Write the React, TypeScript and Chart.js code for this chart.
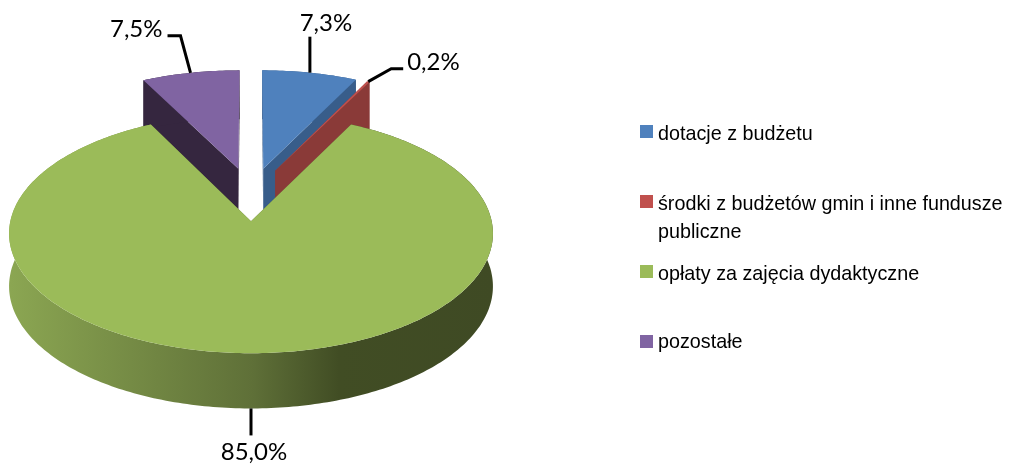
import React, { useEffect, useRef } from "react";
import { Chart, registerables } from "chart.js";

Chart.register(...registerables);

const categories = ["dotacje z budżetu", "środki z budżetów gmin i inne fundusze", "opłaty za zajęcia dydaktyczne", "pozostałe"];
const categoryLines = [[categories[0]], [categories[1], "publiczne"], [categories[2]], [categories[3]]];
const values = [7.3, 0.2, 85.0, 7.5];
const topColors = ["#4f81bd", "#c0504d", "#9bbb59", "#8064a2"];
const wallColors = ["#385d8a", "#8a3a38", "#5d6e35", "#35263f"];
const drawOrder = [3, 0, 1, 2];

// 3D view parameters (image-space projection of the pie disc)
const CX = 251, CY = 194, AX = 235, BY = 113, PERSP = 0.1, EXPLODE = 0.235;
const project = (u: number, v: number, down: boolean) => {
  const w = 1 - PERSP * v;
  return { x: CX + (AX * u) / w, y: CY + (BY * v) / w + (down ? 52 + 2.6 * v : 0) };
};

const LABEL_FONT = '24px Lato, sans-serif';
const LEGEND_FONT = '21px "Liberation Sans", sans-serif';
const LEGEND_SQUEEZE = 0.94;
const labelLayout = [
  { path: [[0, -36]], tx: 16, ty: -42, align: "center" },
  { path: [[23, -13], [35, -13]], tx: 39, ty: -12, align: "left" },
  { path: [[0, 27]], tx: 3, ty: 52, align: "center", down: true },
  { path: [[-10, -37], [-23, -37]], tx: -28, ty: -36, align: "right" },
];
const legendRows = [
  { box: 125, lines: [140] },
  { box: 195, lines: [210, 238] },
  { box: 265, lines: [280] },
  { box: 335, lines: [348] },
];

const pie3d = {
  id: "pie3d",
  beforeDatasetDraw(chart: any) {
    const ctx: CanvasRenderingContext2D = chart.ctx;
    const arcs = chart.getDatasetMeta(0).data;
    drawOrder.forEach((i) => {
      const { startAngle, endAngle } = arcs[i].getProps(["startAngle", "endAngle"], true);
      const mid = (startAngle + endAngle) / 2;
      const ox = Math.cos(mid) * EXPLODE;
      const oy = Math.sin(mid) * EXPLODE;
      const rim = (t: number, down: boolean) => project(ox + Math.cos(t), oy + Math.sin(t), down);
      const tip = (down: boolean) => project(ox, oy, down);
      const steps = Math.max(4, Math.ceil((endAngle - startAngle) * 60));
      const angles = Array.from({ length: steps + 1 }, (_, k) => startAngle + ((endAngle - startAngle) * k) / steps);
      const poly = (pts: { x: number; y: number }[], fill: any) => {
        ctx.beginPath();
        pts.forEach((p, k) => (k ? ctx.lineTo(p.x, p.y) : ctx.moveTo(p.x, p.y)));
        ctx.closePath();
        ctx.fillStyle = fill;
        ctx.fill();
      };
      // radial cut faces
      [startAngle, endAngle].forEach((t) =>
        poly([tip(false), rim(t, false), rim(t, true), tip(true)], wallColors[i])
      );
      // outer wall
      let wallFill: any = wallColors[i];
      if (i === 2) {
        const g = ctx.createLinearGradient(10, 0, 494, 0);
        g.addColorStop(0, "#8ba652");
        g.addColorStop(0.25, "#758b45");
        g.addColorStop(0.5, "#5f7038");
        g.addColorStop(0.68, "#414d24");
        g.addColorStop(1, "#3f4a24");
        wallFill = g;
      }
      poly([...angles.map((t) => rim(t, false)), ...[...angles].reverse().map((t) => rim(t, true))], wallFill);
      // top face
      poly([tip(false), ...angles.map((t) => rim(t, false))], arcs[i].options.backgroundColor);
    });
    return false;
  },
  afterDraw(chart: any) {
    const ctx: CanvasRenderingContext2D = chart.ctx;
    const arcs = chart.getDatasetMeta(0).data;
    ctx.save();
    ctx.strokeStyle = "#000";
    ctx.lineWidth = 3;
    ctx.fillStyle = "#000";
    ctx.font = LABEL_FONT;
    ctx.textBaseline = "alphabetic";
    values.forEach((value, i) => {
      const { startAngle, endAngle } = arcs[i].getProps(["startAngle", "endAngle"], true);
      const mid = (startAngle + endAngle) / 2;
      const L: any = labelLayout[i];
      const a = project(Math.cos(mid) * (1 + EXPLODE), Math.sin(mid) * (1 + EXPLODE), !!L.down);
      ctx.beginPath();
      ctx.moveTo(a.x, a.y);
      L.path.forEach(([dx, dy]: number[]) => ctx.lineTo(a.x + dx, a.y + dy));
      ctx.stroke();
      ctx.textAlign = L.align;
      ctx.fillText(value.toFixed(1).replace(".", ",") + "%", a.x + L.tx, a.y + L.ty);
    });
    ctx.textAlign = "left";
    ctx.font = LEGEND_FONT;
    categoryLines.forEach((lines, i) => {
      ctx.fillStyle = topColors[i];
      ctx.fillRect(640, legendRows[i].box, 13, 13);
      ctx.fillStyle = "#000";
      lines.forEach((line, k) => {
        ctx.save();
        ctx.translate(658, legendRows[i].lines[k]);
        ctx.scale(LEGEND_SQUEEZE, 1);
        ctx.fillText(line, 0, 0);
        ctx.restore();
      });
    });
    ctx.restore();
  },
};

export default function App() {
  const ref = useRef<HTMLCanvasElement>(null);
  useEffect(() => {
    document.body.style.margin = "0";
    const chart = new Chart(ref.current!, {
      type: "pie",
      data: {
        labels: categories,
        datasets: [{ data: values, backgroundColor: topColors, borderWidth: 0 }],
      },
      options: {
        animation: false,
        responsive: false,
        plugins: { legend: { display: false }, tooltip: { enabled: false } },
      },
      plugins: [pie3d],
    } as any);
    return () => chart.destroy();
  }, []);
  return <canvas ref={ref} width={1010} height={465} style={{ display: "block" }} />;
}
